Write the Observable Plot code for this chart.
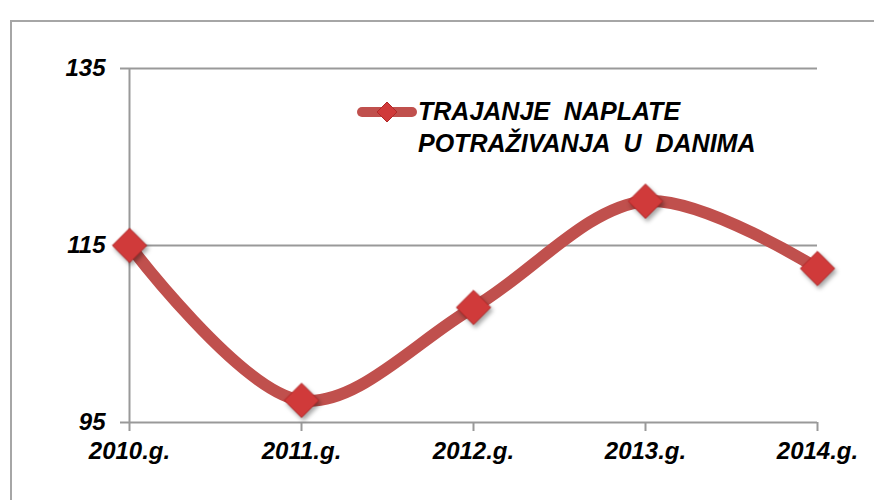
<!DOCTYPE html>
<html>
<head>
<meta charset="utf-8">
<script src="https://cdn.jsdelivr.net/npm/d3@7"></script>
<script src="https://cdn.jsdelivr.net/npm/@observablehq/plot@0.6"></script>
<style>
  html, body { margin: 0; padding: 0; background: #fff; overflow: hidden; }
  #wrap { position: relative; width: 874px; height: 500px; }
  #border { position: absolute; left: 10px; top: 20px; width: 900px; height: 520px; border: 2px solid #a6a6a6; box-sizing: border-box; }
  #chart { position: absolute; left: 0; top: 0; }
  #legend { position: absolute; left: 356px; top: 95px; display: flex; align-items: flex-start;
    font-family: "Liberation Sans", Arial, sans-serif; font-weight: bold; font-style: italic; font-size: 25px; line-height: 32px; color: #000; }
  #legend svg { margin-top: 2px; }
  .markers { filter: drop-shadow(2px 3px 2px rgba(0,0,0,0.35)); }
</style>
</head>
<body>
<div id="wrap">
  <div id="border"></div>
  <div id="chart"></div>
  <div id="legend"></div>
</div>
<script>
const years = ["2010.g.", "2011.g.", "2012.g.", "2013.g.", "2014.g."];
const values = [115, 97.5, 108, 120, 112.4];
const yTicks = [95, 115, 135];
const seriesName = ["TRAJANJE  NAPLATE", "POTRAŽIVANJA  U  DANIMA"];

const data = years.map((y, i) => ({year: y, value: values[i]}));
const lineColor = "#c0504d";
const markColor = "#d03a3a";

const plot = Plot.plot({
  width: 874,
  height: 500,
  marginLeft: 128,
  marginRight: 57,
  marginTop: 68,
  marginBottom: 78,
  style: {fontFamily: "'Liberation Sans', Arial, sans-serif", fontWeight: "bold", fontStyle: "italic", fontSize: "24px", color: "#000", background: "transparent"},
  x: {type: "point", domain: years, padding: 0},
  y: {domain: [95, 135]},
  marks: [
    Plot.ruleY(yTicks, {stroke: "#999", strokeWidth: 2, strokeOpacity: 1}),
    Plot.ruleX([years[0]], {y1: 95, y2: 135, stroke: "#999", strokeWidth: 2}),
    Plot.axisY({ticks: yTicks, tickSize: 8, tickPadding: 15, stroke: "#999", strokeWidth: 2, strokeOpacity: 1, label: null, fontSize: 24, fill: "#000"}),
    Plot.axisX({tickSize: 9, tickPadding: 10, stroke: "#999", strokeWidth: 2, strokeOpacity: 1, label: null, fontSize: 24, fill: "#000"}),
    Plot.line(data, {x: "year", y: "value", curve: "catmull-rom", stroke: lineColor, strokeWidth: 12, strokeLinecap: "round"}),
    Plot.dot(data, {x: "year", y: "value", symbol: "diamond2", r: 15.5, fill: markColor, stroke: "#b02828", strokeWidth: 1, className: "markers"})
  ]
});
document.getElementById("chart").appendChild(plot);

// legend
const leg = document.getElementById("legend");
const sw = d3.create("svg").attr("width", 62).attr("height", 30);
sw.append("line").attr("x1", 6).attr("x2", 56).attr("y1", 15).attr("y2", 15)
  .attr("stroke", lineColor).attr("stroke-width", 10).attr("stroke-linecap", "round");
sw.append("path").attr("d", "M31,5 L41,15 L31,25 L21,15 Z").attr("fill", markColor).attr("stroke", "#b02828");
leg.appendChild(sw.node());
const txt = document.createElement("div");
txt.style.whiteSpace = "pre";
txt.textContent = seriesName.join("\n");
leg.appendChild(txt);
</script>
</body>
</html>
